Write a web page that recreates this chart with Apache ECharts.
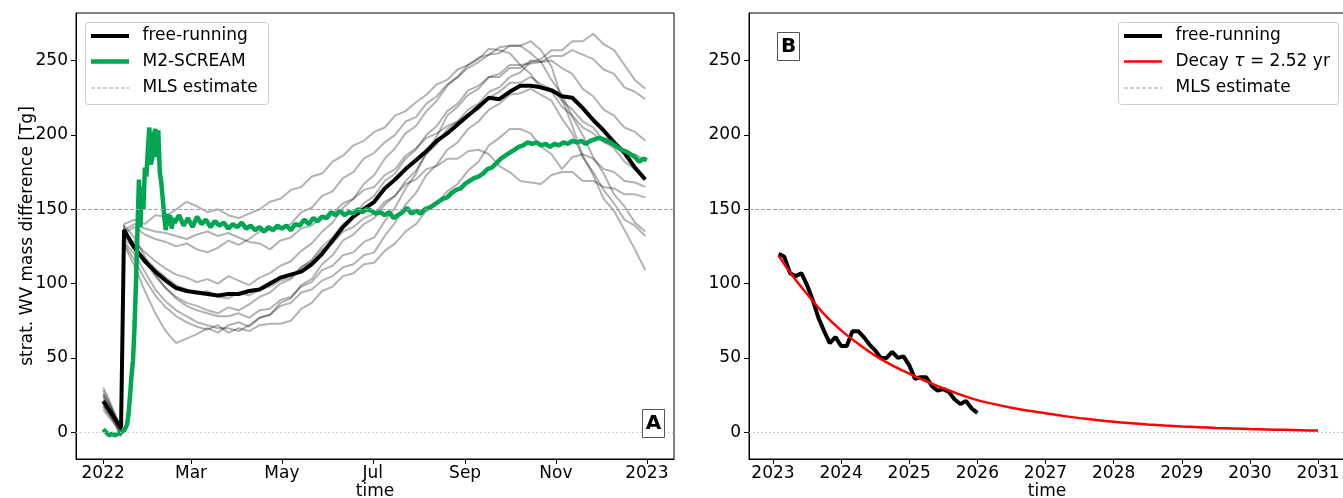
<!DOCTYPE html>
<html>
<head>
<meta charset="utf-8">
<script src="https://cdn.jsdelivr.net/npm/echarts@6/dist/echarts.min.js"></script>
<style>
  html, body { margin: 0; padding: 0; background: #fff; overflow: hidden; }
  #chart { width: 1346px; height: 498px; }
</style>
</head>
<body>
<div id="chart"></div>
<script>
// ---- Panel A: 2022, days since 2022-01-01 ----
const monthTickDays = [0, 59, 120, 181, 243, 304, 365];
const monthTickLabels = ['2022', 'Mar', 'May', 'Jul', 'Sep', 'Nov', '2023'];
const massTicks = [0, 50, 100, 150, 200, 250];
const mlsEstimate = 150;

// sample days for the free-running ensemble
const ensDays = [0, 4, 8, 12, 14, 21, 28, 35, 42, 49, 56, 63, 70, 77, 84, 91, 98, 105, 112, 119,
  126, 133, 140, 147, 154, 161, 168, 175, 182, 189, 196, 203, 210, 217, 224, 231, 238, 245, 252, 259,
  266, 273, 280, 287, 294, 301, 308, 315, 322, 329, 336, 343, 350, 357, 364];

// free-running ensemble mean [Tg]
const freeRunning = [21, 15, 9, 3, 136, 124, 115, 108, 102, 97, 95, 94, 93, 92, 93, 93, 95, 96, 100, 104,
  106, 108, 113, 120, 129, 138, 145, 150, 155, 164, 170, 177, 183, 189, 196, 201, 207, 213, 219, 225,
  224, 229, 233, 233, 232, 230, 226, 225, 218, 210, 203, 195, 188, 178, 170];

// individual ensemble members [Tg]
const member1 = [28, 20, 11, 3, 140, 143, 140, 146, 145, 150, 155, 152, 148, 150, 146, 144, 147, 150, 155, 157,
  163, 165, 172, 174, 182, 186, 193, 196, 202, 205, 213, 216, 222, 227, 234, 237, 244, 247, 252, 254,
  259, 260, 260, 255, 249, 237, 227, 212, 200, 185, 174, 160, 152, 141, 135];
const member2 = [22, 16, 9, 1, 134, 138, 133, 130, 128, 125, 127, 123, 121, 124, 129, 126, 130, 135, 136, 137,
  140, 148, 151, 159, 162, 171, 175, 184, 188, 195, 200, 209, 212, 221, 226, 234, 239, 245, 249, 254,
  255, 260, 260, 263, 257, 246, 224, 206, 186, 173, 157, 149, 136, 123, 109];
const member3 = [18, 12, 7, 0, 131, 128, 121, 115, 110, 106, 104, 101, 103, 100, 105, 102, 99, 104, 107, 112,
  115, 122, 127, 135, 141, 151, 157, 167, 173, 184, 191, 201, 206, 216, 223, 233, 239, 247, 251, 258,
  257, 255, 247, 241, 231, 229, 219, 213, 205, 201, 195, 193, 188, 187, 183];
const member4 = [25, 18, 10, 2, 133, 126, 115, 105, 97, 91, 87, 85, 82, 80, 84, 82, 86, 91, 94, 100,
  103, 111, 116, 125, 131, 140, 145, 154, 159, 169, 174, 184, 190, 200, 206, 216, 221, 230, 233, 239,
  241, 247, 247, 248, 249, 250, 245, 241, 231, 226, 217, 213, 205, 202, 196];
const member5 = [15, 10, 5, -2, 128, 120, 108, 96, 88, 82, 78, 74, 72, 70, 70, 68, 72, 77, 79, 87,
  90, 99, 103, 113, 119, 129, 133, 140, 144, 153, 159, 169, 176, 187, 194, 204, 209, 217, 221, 229,
  232, 239, 242, 249, 251, 257, 257, 263, 263, 268, 261, 257, 247, 237, 231];
const member6 = [30, 22, 12, 3, 139, 131, 118, 106, 97, 90, 85, 82, 80, 78, 78, 80, 77, 82, 83, 89,
  91, 98, 101, 109, 112, 119, 121, 128, 131, 142, 151, 164, 174, 189, 199, 213, 219, 227, 231, 239,
  239, 245, 245, 250, 249, 253, 253, 257, 254, 251, 244, 241, 232, 229, 224];
const member7 = [20, 13, 6, -3, 126, 112, 95, 80, 68, 60, 63, 66, 70, 67, 72, 74, 71, 77, 79, 85,
  87, 94, 96, 102, 105, 111, 113, 119, 121, 132, 141, 153, 161, 173, 180, 190, 195, 204, 209, 217,
  221, 227, 228, 231, 227, 223, 211, 201, 185, 175, 163, 154, 143, 139, 132];
const member8 = [24, 17, 9, 1, 127, 116, 103, 92, 84, 78, 74, 71, 69, 72, 67, 70, 68, 72, 73, 73,
  75, 83, 87, 95, 98, 105, 107, 113, 114, 122, 127, 135, 140, 149, 154, 162, 167, 176, 182, 193,
  198, 204, 204, 201, 192, 187, 177, 185, 187, 184, 177, 175, 169, 168, 165];
const member9 = [17, 12, 6, 0, 130, 124, 117, 110, 104, 99, 96, 93, 95, 91, 90, 94, 92, 96, 98, 102,
  104, 111, 115, 123, 127, 135, 138, 144, 147, 155, 159, 167, 170, 177, 179, 184, 184, 189, 190, 187,
  179, 175, 169, 168, 167, 173, 175, 175, 169, 169, 165, 164, 160, 160, 158];
const member10 = [26, 19, 11, 2, 136, 140, 137, 135, 134, 132, 130, 133, 135, 132, 134, 131, 128, 127, 123, 129,
  131, 137, 139, 145, 147, 154, 157, 163, 165, 173, 177, 186, 191, 198, 201, 206, 209, 214, 217, 225,
  229, 235, 235, 239, 234, 231, 223, 217, 209, 205, 196, 191, 182, 177, 170];
const members = [member1, member2, member3, member4, member5, member6, member7, member8, member9, member10];

// M2-SCREAM reanalysis [day, Tg]
const m2scream = [[0,2],[2,0],[4,-2],[6,-1],[8,-2],[10,-1],[12,0],[14,1],[15,2],[16,5],[17,12],[18,24],
  [19,38],[20,48],[21,70],[22,100],[23,135],[24,170],[25,138],[26,165],[27,150],[28,178],[29,172],[30,190],
  [31,205],[32,180],[33,185],[34,200],[35,204],[36,185],[37,203],[38,175],[39,168],[40,157],[41,145],[42,136],
  [43,147],[44,139],[45,146],[46,137],[47,144],[48,141],[51,146],[54,139],[57,144],[60,138],[63,145],[66,140],
  [69,143],[72,138],[75,142],[78,139],[81,141],[84,137],[87,140],[90,138],[93,141],[96,137],[99,139],[102,136],
  [105,138],[108,135],[111,138],[114,136],[117,139],[120,137],[123,139],[126,136],[129,140],[132,139],[135,143],
  [138,140],[141,144],[144,142],[147,145],[150,144],[153,148],[156,146],[159,149],[162,146],[165,148],[168,147],
  [171,150],[174,148],[177,150],[180,149],[183,147],[186,148],[189,146],[192,148],[195,144],[198,146],[201,148],
  [204,151],[207,147],[210,149],[213,147],[216,150],[219,151],[222,153],[225,155],[228,157],[231,158],[234,161],
  [237,163],[240,164],[243,167],[246,169],[249,171],[252,172],[255,174],[258,177],[261,178],[264,181],[267,184],
  [270,186],[273,188],[276,190],[279,192],[282,193],[285,195],[288,194],[291,195],[294,193],[297,194],[300,192],
  [303,194],[306,193],[309,195],[312,194],[315,196],[318,195],[321,196],[324,194],[327,196],[330,197],[333,198],
  [336,197],[339,196],[342,194],[345,192],[348,190],[351,189],[354,187],[357,185],[360,182],[363,184],[365,183]];

// ---- Panel B: decay after 2023 ----
const yearTicks = [2023, 2024, 2025, 2026, 2027, 2028, 2029, 2030, 2031];
const freeStartYear = 2023 + 1 / 12;   // monthly values from Feb 2023
const freeMonthly = [120, 118, 107, 105, 107, 99, 89, 77, 68, 60, 64, 58, 58, 68, 68, 64, 59, 55, 50, 50,
  54, 50, 51, 45, 36, 37, 37, 31, 28, 29, 27, 22, 19, 21, 16, 13];
const decayYears = [2023.08, 2023.25, 2023.5, 2023.75, 2024, 2024.25, 2024.5, 2024.75, 2025, 2025.25,
  2025.5, 2025.75, 2026, 2026.25, 2026.5, 2026.75, 2027, 2027.25, 2027.5, 2027.75, 2028, 2028.25,
  2028.5, 2028.75, 2029, 2029.25, 2029.5, 2029.75, 2030, 2030.25, 2030.5, 2030.75, 2031];
const decayFit = [119, 107.5, 93, 79.5, 68.5, 59.5, 51.5, 45, 39.5, 34.2, 29.6, 25.3, 21.6, 18.9, 16.5,
  14.5, 12.8, 11, 9.5, 8.2, 7, 6.1, 5.2, 4.5, 3.9, 3.4, 2.9, 2.5, 2.1, 1.85, 1.6, 1.35, 1.1];

const FONT = 'DejaVu Sans';
const FS = 17;

function yAxisCfg(gridIndex, withName) {
  const ax = {
    type: 'value', gridIndex: gridIndex, min: -18, max: 282,
    axisLine: { show: true, onZero: false, lineStyle: { color: '#000', width: 1 } },
    axisTick: { show: true, length: 5, customValues: massTicks, lineStyle: { color: '#000', width: 1 } },
    axisLabel: { customValues: massTicks, fontSize: FS, fontFamily: FONT, color: '#000', margin: 8 },
    splitLine: { show: false }
  };
  if (withName) {
    ax.name = 'strat. WV mass difference [Tg]';
    ax.nameLocation = 'middle';
    ax.nameGap = 40;
    ax.nameMoveOverlap = false;
    ax.nameTextStyle = { fontSize: FS, fontFamily: FONT, color: '#000' };
  }
  return ax;
}

function timeAxisName() {
  return {
    name: 'time', nameLocation: 'middle', nameGap: 24, nameMoveOverlap: false,
    nameTextStyle: { fontSize: FS, fontFamily: FONT, color: '#000', verticalAlign: 'top' }
  };
}

function refLines() {
  return {
    silent: true, symbol: 'none', animation: false,
    label: { show: false },
    emphasis: { disabled: true },
    data: [
      { yAxis: mlsEstimate, lineStyle: { color: '#a0a0a0', width: 1, type: [4, 2] } },
      { yAxis: 0, lineStyle: { color: '#bdbdbd', width: 1, type: [1.5, 2.5] } }
    ]
  };
}

const series = [];
members.forEach(function (m, k) {
  series.push({
    type: 'line', xAxisIndex: 0, yAxisIndex: 0, symbol: 'none', silent: true, animation: false,
    data: ensDays.map(function (d, i) { return [d, m[i]]; }),
    lineStyle: { color: '#000', opacity: 0.3, width: 2 },
    z: 2,
    markLine: k === 0 ? refLines() : undefined
  });
});
series.push({
  type: 'line', xAxisIndex: 0, yAxisIndex: 0, symbol: 'none', silent: true, animation: false,
  data: ensDays.map(function (d, i) { return [d, freeRunning[i]]; }),
  lineStyle: { color: '#000', width: 4 }, z: 3
});
series.push({
  type: 'line', xAxisIndex: 0, yAxisIndex: 0, symbol: 'none', silent: true, animation: false,
  data: m2scream,
  lineStyle: { color: '#00a651', width: 4.5 }, z: 4
});
series.push({
  type: 'line', xAxisIndex: 1, yAxisIndex: 1, symbol: 'none', silent: true, animation: false,
  data: freeMonthly.map(function (v, i) { return [freeStartYear + i / 12, v]; }),
  lineStyle: { color: '#000', width: 4 }, z: 3,
  markLine: refLines()
});
series.push({
  type: 'line', xAxisIndex: 1, yAxisIndex: 1, symbol: 'none', silent: true, animation: false,
  smooth: 0.3,
  data: decayYears.map(function (y, i) { return [y, decayFit[i]]; }),
  lineStyle: { color: '#ff0000', width: 2.5 }, z: 4
});

function legendBox(x, y, w, h, rows) {
  const els = [{
    type: 'rect', z: 100,
    shape: { x: x, y: y, width: w, height: h, r: 3 },
    style: { fill: 'rgba(255,255,255,0.85)', stroke: '#cccccc', lineWidth: 1 }
  }];
  rows.forEach(function (r) {
    els.push({
      type: 'line', z: 101,
      shape: { x1: x + 5.5, y1: r.y, x2: x + 43.5, y2: r.y },
      style: { stroke: r.color, lineWidth: r.width, lineDash: r.dash || null }
    });
    els.push({
      type: 'text', z: 101, x: x + 57, y: r.y,
      style: {
        text: r.text, rich: r.rich, fill: '#000', font: FS + 'px "' + FONT + '"',
        verticalAlign: 'middle', align: 'left'
      }
    });
  });
  return els;
}

function panelTag(x, y, letter) {
  return [
    { type: 'rect', z: 100, shape: { x: x, y: y, width: 22, height: 28 },
      style: { fill: '#fff', stroke: '#555', lineWidth: 1 } },
    { type: 'text', z: 101, x: x + 11, y: y + 14.5,
      style: { text: letter, fill: '#000', font: 'bold 20px "' + FONT + '"', align: 'center', verticalAlign: 'middle' } }
  ];
}

const richDecay = {
  n: { fontSize: FS, fontFamily: FONT, fill: '#000' },
  t: { fontSize: FS, fontFamily: FONT, fontStyle: 'italic', fill: '#000' }
};

const graphics = []
  .concat(legendBox(85.5, 22.5, 183, 82, [
    { y: 36, color: '#000', width: 4, text: 'free-running' },
    { y: 61.5, color: '#00a651', width: 4.5, text: 'M2-SCREAM' },
    { y: 88, color: '#a0a0a0', width: 1, dash: [4, 2], text: 'MLS estimate' }
  ]))
  .concat(legendBox(1118.5, 22.5, 220, 82, [
    { y: 36, color: '#000', width: 4, text: 'free-running' },
    { y: 61.5, color: '#ff0000', width: 2.5, text: '{n|Decay }{t|τ}{n| = 2.52 yr}', rich: richDecay },
    { y: 88, color: '#a0a0a0', width: 1, dash: [4, 2], text: 'MLS estimate' }
  ]))
  .concat(panelTag(642.5, 409.5, 'A'))
  .concat(panelTag(777.5, 32.5, 'B'));

const gridBase = {
  top: 13, height: 446, show: true, borderColor: '#000', borderWidth: 1,
  backgroundColor: 'transparent', containLabel: false, outerBoundsMode: 'none'
};

const option = {
  animation: false,
  backgroundColor: '#fff',
  textStyle: { fontFamily: FONT },
  grid: [
    Object.assign({ left: 76, width: 598 }, gridBase),
    Object.assign({ left: 749, width: 596 }, gridBase)
  ],
  xAxis: [
    Object.assign({
      type: 'value', gridIndex: 0, min: -18.25, max: 383.25,
      axisLine: { show: true, onZero: false, lineStyle: { color: '#000', width: 1 } },
      axisTick: { show: true, length: 5, customValues: monthTickDays, lineStyle: { color: '#000', width: 1 } },
      axisLabel: {
        customValues: monthTickDays, fontSize: FS, fontFamily: FONT, color: '#000', margin: 6,
        formatter: function (v) { const i = monthTickDays.indexOf(v); return i >= 0 ? monthTickLabels[i] : ''; }
      },
      splitLine: { show: false }
    }, timeAxisName()),
    Object.assign({
      type: 'value', gridIndex: 1, min: 2022.648, max: 2031.396,
      axisLine: { show: true, onZero: false, lineStyle: { color: '#000', width: 1 } },
      axisTick: { show: true, length: 5, customValues: yearTicks, lineStyle: { color: '#000', width: 1 } },
      axisLabel: {
        customValues: yearTicks, fontSize: FS, fontFamily: FONT, color: '#000', margin: 6,
        formatter: function (v) { return String(v); }
      },
      splitLine: { show: false }
    }, timeAxisName())
  ],
  yAxis: [yAxisCfg(0, true), yAxisCfg(1, false)],
  series: series,
  graphic: graphics
};

const chart = echarts.init(document.getElementById('chart'), null, { renderer: 'canvas' });
chart.setOption(option);
</script>
</body>
</html>
